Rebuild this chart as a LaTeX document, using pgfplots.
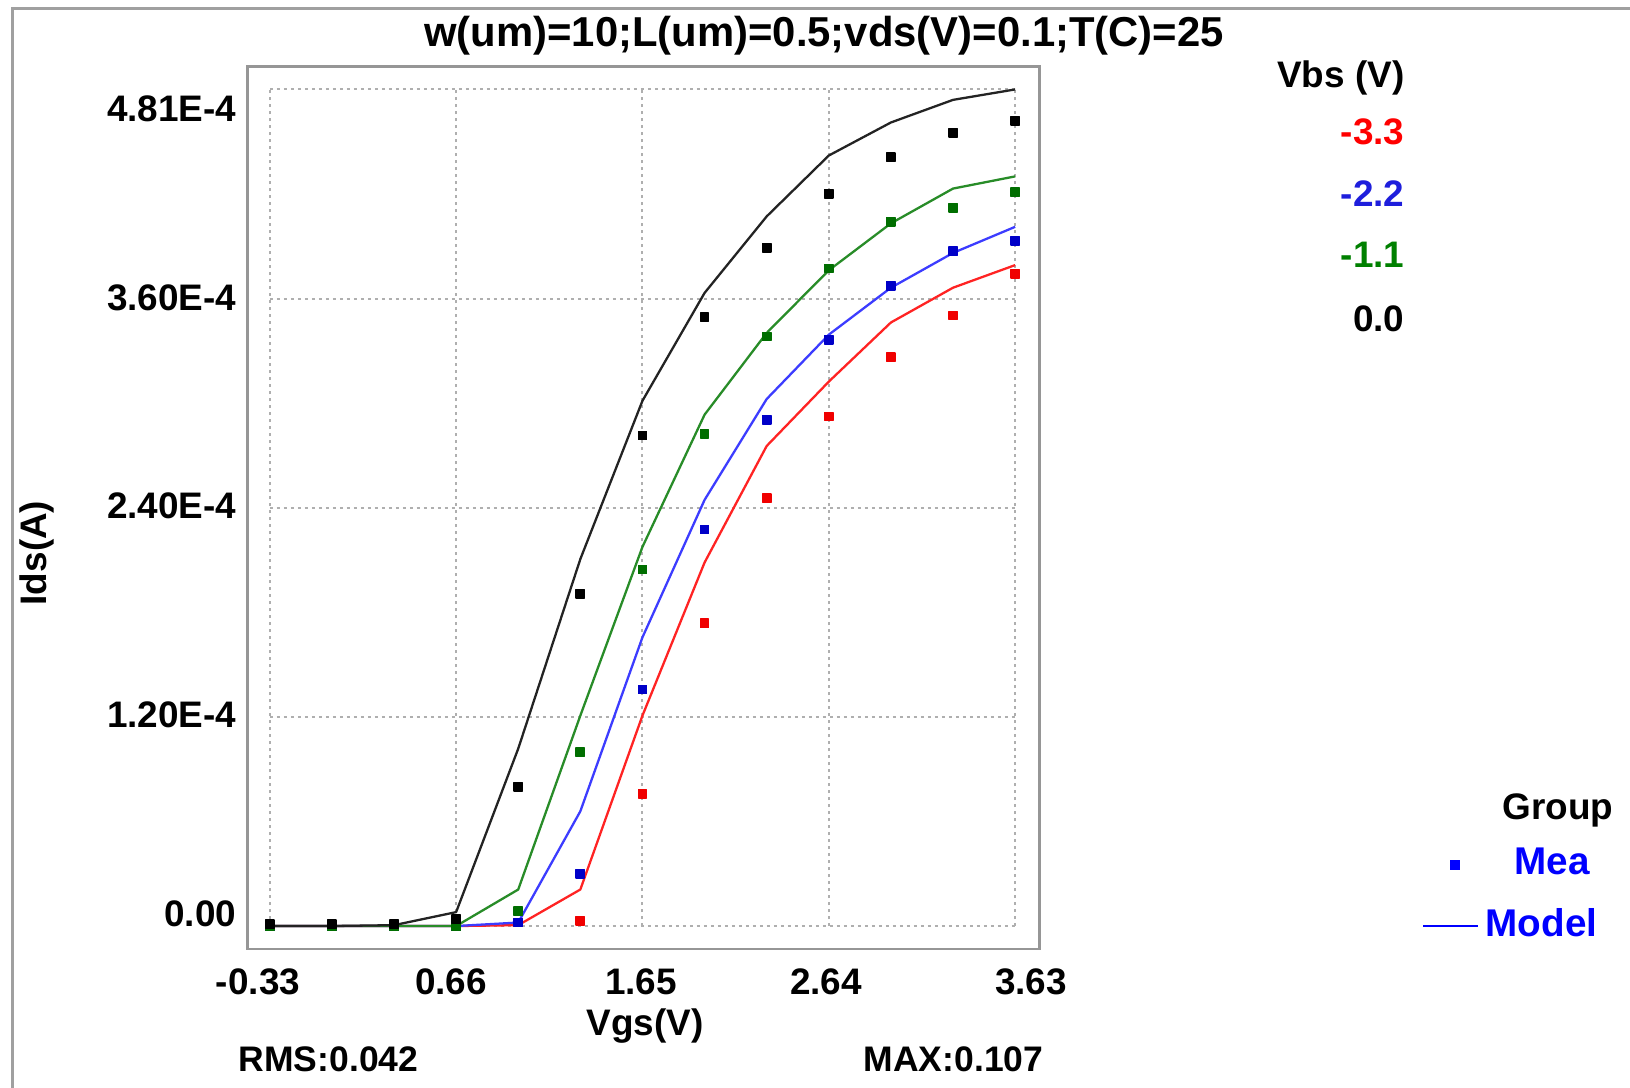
\documentclass[border=0pt]{standalone}
\usepackage{pgfplots}
\pgfplotsset{compat=1.18}
\usepackage{fontspec}
\setmainfont{Liberation Sans}
\definecolor{framegray}{RGB}{160,160,160}
\definecolor{axisgray}{RGB}{150,150,150}
\definecolor{gridgray}{RGB}{175,175,175}
\definecolor{linered}{RGB}{255,35,35}
\definecolor{lineblue}{RGB}{60,60,255}
\definecolor{linegreen}{RGB}{40,140,40}
\definecolor{lineblack}{RGB}{35,35,35}
\definecolor{meared}{RGB}{240,0,0}
\definecolor{meablue}{RGB}{0,0,200}
\definecolor{meagreen}{RGB}{0,110,0}
\definecolor{txtblue}{RGB}{30,30,220}
\definecolor{txtgreen}{RGB}{0,128,0}
\begin{document}
\begin{tikzpicture}[x=0.1mm,y=0.1mm,font=\bfseries\fontsize{10.5}{12}\selectfont]
\useasboundingbox (0,0) rectangle (1630,1088);
\fill[white] (0,0) rectangle (1630,1088);
\draw[framegray, line width=0.3mm] (12,0) -- (12,1079) -- (1630,1079);
\begin{axis}[
  at={(24.74mm,13.9mm)}, anchor=south west,
  scale only axis, width=79.2mm, height=88.27mm,
  xmin=-0.449, xmax=3.759, ymin=-0.132, ymax=4.943,
  xtick=\empty, ytick=\empty,
  axis line style={draw=axisgray, line width=0.25mm},
  every axis plot/.append style={line join=round},
]
% grid (dotted, spanning the tick range)
\draw[gridgray, line width=0.2mm, dash pattern=on 0.3mm off 0.4mm] (-0.33,0) -- (-0.33,4.81);
\draw[gridgray, line width=0.2mm, dash pattern=on 0.3mm off 0.4mm] (0.66,0) -- (0.66,4.81);
\draw[gridgray, line width=0.2mm, dash pattern=on 0.3mm off 0.4mm] (1.65,0) -- (1.65,4.81);
\draw[gridgray, line width=0.2mm, dash pattern=on 0.3mm off 0.4mm] (2.64,0) -- (2.64,4.81);
\draw[gridgray, line width=0.2mm, dash pattern=on 0.3mm off 0.4mm] (3.63,0) -- (3.63,4.81);
\draw[gridgray, line width=0.2mm, dash pattern=on 0.3mm off 0.4mm] (-0.33,0) -- (3.63,0);
\draw[gridgray, line width=0.2mm, dash pattern=on 0.3mm off 0.4mm] (-0.33,1.2025) -- (3.63,1.2025);
\draw[gridgray, line width=0.2mm, dash pattern=on 0.3mm off 0.4mm] (-0.33,2.405) -- (3.63,2.405);
\draw[gridgray, line width=0.2mm, dash pattern=on 0.3mm off 0.4mm] (-0.33,3.6075) -- (3.63,3.6075);
\draw[gridgray, line width=0.2mm, dash pattern=on 0.3mm off 0.4mm] (-0.33,4.81) -- (3.63,4.81);
% Model curves (Ids in 1e-4 A)
\addplot[linered, line width=0.65pt] coordinates {(-0.33,0) (0,0) (0.33,0) (0.66,0) (0.99,0.005) (1.32,0.21) (1.65,1.21) (1.98,2.09) (2.31,2.76) (2.64,3.13) (2.97,3.47) (3.3,3.67) (3.63,3.80)};
\addplot[lineblue, line width=0.65pt] coordinates {(-0.33,0) (0,0) (0.33,0) (0.66,0) (0.99,0.02) (1.32,0.66) (1.65,1.66) (1.98,2.45) (2.31,3.03) (2.64,3.40) (2.97,3.67) (3.3,3.87) (3.63,4.02)};
\addplot[linegreen, line width=0.65pt] coordinates {(-0.33,0) (0,0) (0.33,0) (0.66,0) (0.99,0.21) (1.32,1.21) (1.65,2.18) (1.98,2.94) (2.31,3.41) (2.64,3.77) (2.97,4.04) (3.3,4.24) (3.63,4.31)};
\addplot[lineblack, line width=0.65pt] coordinates {(-0.33,0) (0,0) (0.33,0.005) (0.66,0.08) (0.99,1.02) (1.32,2.11) (1.65,3.02) (1.98,3.64) (2.31,4.08) (2.64,4.43) (2.97,4.62) (3.3,4.75) (3.63,4.81)};
% Measured points
\addplot[only marks, mark=square*, mark size=0.42mm, meared] coordinates {(-0.33,0) (0,0) (0.33,0) (0.66,0) (0.99,0.02) (1.32,0.03) (1.65,0.76) (1.98,1.74) (2.31,2.46) (2.64,2.93) (2.97,3.27) (3.3,3.51) (3.63,3.75)};
\addplot[only marks, mark=square*, mark size=0.42mm, meablue] coordinates {(-0.33,0) (0,0) (0.33,0) (0.66,0) (0.99,0.02) (1.32,0.30) (1.65,1.36) (1.98,2.28) (2.31,2.91) (2.64,3.37) (2.97,3.68) (3.3,3.88) (3.63,3.94)};
\addplot[only marks, mark=square*, mark size=0.42mm, meagreen] coordinates {(-0.33,0) (0,0) (0.33,0) (0.66,0) (0.99,0.085) (1.32,1.00) (1.65,2.05) (1.98,2.83) (2.31,3.39) (2.64,3.78) (2.97,4.05) (3.3,4.13) (3.63,4.22)};
\addplot[only marks, mark=square*, mark size=0.42mm, black] coordinates {(-0.33,0.01) (0,0.01) (0.33,0.01) (0.66,0.04) (0.99,0.80) (1.32,1.91) (1.65,2.82) (1.98,3.50) (2.31,3.90) (2.64,4.21) (2.97,4.42) (3.3,4.56) (3.63,4.63)};
\end{axis}
% title
\node[anchor=base, font=\bfseries\fontsize{11.9}{14}\selectfont] at (824,1041) {w(um)=10;L(um)=0.5;vds(V)=0.1;T(C)=25};
% y tick labels
\node[anchor=base east, inner sep=0pt] at (237,966) {4.81E-4};
\node[anchor=base east, inner sep=0pt] at (237,777) {3.60E-4};
\node[anchor=base east, inner sep=0pt] at (237,569) {2.40E-4};
\node[anchor=base east, inner sep=0pt] at (237,360) {1.20E-4};
\node[anchor=base east, inner sep=0pt] at (237,161) {0.00};
% x tick labels
\node[anchor=base, inner sep=0pt] at (258,93) {-0.33};
\node[anchor=base, inner sep=0pt] at (451,93) {0.66};
\node[anchor=base, inner sep=0pt] at (641,93) {1.65};
\node[anchor=base, inner sep=0pt] at (826,93) {2.64};
\node[anchor=base, inner sep=0pt] at (1031,93) {3.63};
% axis labels
\node[anchor=base, inner sep=0pt] at (645,52) {Vgs(V)};
\node[anchor=base, rotate=90, inner sep=0pt] at (46,535) {Ids(A)};
% stats
\node[anchor=base west, inner sep=0pt, font=\bfseries\fontsize{10.1}{12}\selectfont] at (238,16) {RMS:0.042};
\node[anchor=base west, inner sep=0pt, font=\bfseries\fontsize{10.1}{12}\selectfont] at (863,16) {MAX:0.107};
% Vbs legend
\node[anchor=base east, inner sep=0pt] at (1405,1000) {Vbs (V)};
\node[anchor=base east, inner sep=0pt, text=red] at (1405,943) {-3.3};
\node[anchor=base east, inner sep=0pt, text=txtblue] at (1405,881) {-2.2};
\node[anchor=base east, inner sep=0pt, text=txtgreen] at (1405,820) {-1.1};
\node[anchor=base east, inner sep=0pt] at (1405,756) {0.0};
% Group legend
\node[anchor=base west, inner sep=0pt] at (1502,268) {Group};
\node[anchor=base west, inner sep=0pt, text=blue, font=\bfseries\fontsize{11}{13}\selectfont] at (1514,213) {Mea};
\fill[blue] (1450,218) rectangle (1460,228);
\node[anchor=base west, inner sep=0pt, text=blue, font=\bfseries\fontsize{11}{13}\selectfont] at (1485,151) {Model};
\draw[blue, line width=0.25mm] (1423,162) -- (1478,162);
\end{tikzpicture}
\end{document}
